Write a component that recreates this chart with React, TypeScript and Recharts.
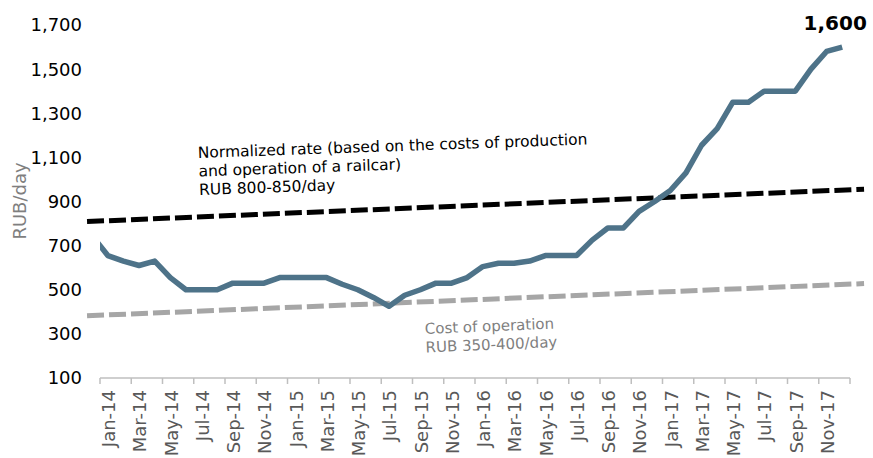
import React from 'react';
import { LineChart, Line, XAxis, YAxis, ReferenceLine, LabelList, Customized } from 'recharts';

const months = [
  'Jan-14', 'Feb-14', 'Mar-14', 'Apr-14', 'May-14', 'Jun-14', 'Jul-14', 'Aug-14', 'Sep-14', 'Oct-14', 'Nov-14', 'Dec-14',
  'Jan-15', 'Feb-15', 'Mar-15', 'Apr-15', 'May-15', 'Jun-15', 'Jul-15', 'Aug-15', 'Sep-15', 'Oct-15', 'Nov-15', 'Dec-15',
  'Jan-16', 'Feb-16', 'Mar-16', 'Apr-16', 'May-16', 'Jun-16', 'Jul-16', 'Aug-16', 'Sep-16', 'Oct-16', 'Nov-16', 'Dec-16',
  'Jan-17', 'Feb-17', 'Mar-17', 'Apr-17', 'May-17', 'Jun-17', 'Jul-17', 'Aug-17', 'Sep-17', 'Oct-17', 'Nov-17', 'Dec-17',
];

// railcar rental rate, RUB/day
const rate = [
  655, 630, 610, 630, 555, 500, 500, 500, 530, 530, 530, 555,
  555, 555, 555, 525, 500, 465, 425, 475, 500, 530, 530, 555,
  605, 620, 620, 630, 655, 655, 655, 725, 780, 780, 855, 900,
  950, 1030, 1155, 1230, 1350, 1350, 1400, 1400, 1400, 1500, 1580, 1600,
];
// Dec-13 value, only the tail of it shows at the left edge
const rateBefore = 745;

// trend lines: value at start / end of the span (span in months from Jan-14)
const trendSpan = [-0.83, 48.9];
const normalizedRate = [809, 956];
const operationCost = [382, 528];

const yTicks = [100, 300, 500, 700, 900, 1100, 1300, 1500, 1700];
// tick marks sit between months, every second one
const boundaryTicks = Array.from({ length: 25 }, (_, i) => i * 2);

const lineData = [
  { x: -0.5, rate: rateBefore },
  ...rate.map((v, i) => ({ x: i + 0.5, rate: v })),
];

const FONT = '"DejaVu Sans", Verdana, sans-serif';
const AXIS_GREY = '#bfbfbf';

// label of the month that starts at this tick mark, centred on that month
const MonthTick = (props: any) => {
  const { x, y, payload, width } = props;
  const label = months[payload.value];
  if (!label) return null;
  const half = (Number(width) || 750) / months.length / 2;
  const cx = x + half;
  return (
    <text
      x={cx}
      y={y}
      transform={`rotate(-90, ${cx}, ${y})`}
      textAnchor="end"
      dy="0.4em"
      fill="#595959"
      fontSize={18}
      fontFamily={FONT}
    >
      {label}
    </text>
  );
};

const LastValue = (props: any) => {
  const { x, y, index, value } = props;
  if (index !== lineData.length - 1) return null;
  return (
    <text x={x - 7} y={y - 17} textAnchor="middle" fontSize={20} fontWeight="bold" fill="#000" fontFamily={FONT}>
      {value.toLocaleString('en-US')}
    </text>
  );
};

const Notes = () => (
  <g fontFamily={FONT}>
    <text x={26} y={201} transform="rotate(-90, 26, 201)" textAnchor="middle" fontSize={18} fill="#7f7f7f">
      RUB/day
    </text>
    <text transform="rotate(-2, 198, 158)" fontSize={15.5} fill="#000">
      <tspan x={198} y={158}>Normalized rate (based on the costs of production</tspan>
      <tspan x={198} y={176.5}>and operation of a railcar)</tspan>
      <tspan x={198} y={195}>RUB 800-850/day</tspan>
    </text>
    <text transform="rotate(-2.4, 425, 334)" fontSize={15} fill="#7f7f7f">
      <tspan x={425} y={334}>Cost of operation</tspan>
      <tspan x={425} y={352.5}>RUB 350-400/day</tspan>
    </text>
  </g>
);

export default function App() {
  return (
    <div style={{ width: 873, height: 458, fontFamily: FONT }}>
      <style>{'body{margin:0}'}</style>
      <LineChart width={873} height={458} margin={{ top: 25, right: 23, left: 0, bottom: 0 }}>
        <XAxis
          type="number"
          dataKey="x"
          domain={[0, 48]}
          allowDataOverflow
          ticks={boundaryTicks}
          interval={0}
          height={80}
          tickSize={6}
          tickMargin={6}
          axisLine={{ stroke: AXIS_GREY, strokeWidth: 1.5 }}
          tickLine={{ stroke: AXIS_GREY, strokeWidth: 1.5 }}
          tick={<MonthTick />}
        />
        <YAxis
          type="number"
          domain={[100, 1700]}
          ticks={yTicks}
          interval={0}
          width={100}
          axisLine={false}
          tickLine={false}
          tickSize={0}
          tickMargin={18}
          tick={{ fill: '#000', fontSize: 18 }}
          tickFormatter={(v: number) => v.toLocaleString('en-US')}
        />
        <ReferenceLine
          segment={[
            { x: trendSpan[0], y: normalizedRate[0] },
            { x: trendSpan[1], y: normalizedRate[1] },
          ]}
          ifOverflow="visible"
          stroke="#000"
          strokeWidth={5}
          strokeDasharray="17 5"
        />
        <ReferenceLine
          segment={[
            { x: trendSpan[0], y: operationCost[0] },
            { x: trendSpan[1], y: operationCost[1] },
          ]}
          ifOverflow="visible"
          stroke="#a6a6a6"
          strokeWidth={5}
          strokeDasharray="17 5"
        />
        <Line
          data={lineData}
          dataKey="rate"
          type="linear"
          stroke="#4e7389"
          strokeWidth={5.5}
          strokeLinejoin="round"
          dot={false}
          isAnimationActive={false}
        >
          <LabelList dataKey="rate" content={<LastValue />} />
        </Line>
        <Customized component={Notes} />
      </LineChart>
    </div>
  );
}
